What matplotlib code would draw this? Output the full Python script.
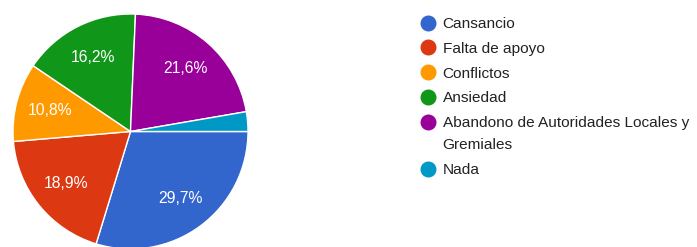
import matplotlib.pyplot as plt
from matplotlib.lines import Line2D

plt.rcParams['font.family'] = ['Liberation Sans', 'DejaVu Sans']

labels = ['Cansancio', 'Falta de apoyo', 'Conflictos', 'Ansiedad',
          'Abandono de Autoridades Locales y\nGremiales', 'Nada']
counts = [11, 7, 4, 6, 8, 1]   # -> 29,7 / 18,9 / 10,8 / 16,2 / 21,6 / 2,7 %
colors = ['#3366cc', '#dc3912', '#ff9900', '#109618', '#990099', '#0099c6']


def fmt(p):
    if p < 5:
        return ''
    return ('%.1f%%' % p).replace('.', ',')


fig = plt.figure(figsize=(6.97, 2.47), dpi=100)
W, H = 697, 247
cx, cy, r = 130.5, 131.5, 117.5
ax = fig.add_axes([(cx - r) / W, (H - cy - r) / H, 2 * r / W, 2 * r / H])

wedges, texts, autotexts = ax.pie(
    counts, colors=colors, startangle=0, counterclock=False,
    autopct=fmt, pctdistance=0.71,
    wedgeprops=dict(edgecolor='white', linewidth=1),
    textprops=dict(color='white', fontsize=11.3))
ax.set_xlim(-1, 1)
ax.set_ylim(-1, 1)
ax.set_aspect('equal')
for w in wedges:
    w.set_clip_on(False)

handles = [Line2D([], [], marker='o', linestyle='none', markersize=10.5,
                  markerfacecolor=c, markeredgecolor=c) for c in colors]
leg = fig.legend(handles, labels, loc='upper left',
                 bbox_to_anchor=(420 / W, 1 - 17 / H),
                 frameon=False, fontsize=11.1, labelspacing=0.7,
                 handlelength=1.0, handletextpad=0.46, borderaxespad=0,
                 borderpad=0)
for t in leg.get_texts():
    t.set_color('#222222')
    t.set_linespacing(1.75)

# put the marker of the two-line entry next to its first line
for col in leg._legend_handle_box.get_children():
    for item in col.get_children():
        txt = item.get_children()[1]
        if '\n' in txt.get_text():
            item.align = 'top'

fig.savefig('out.png', dpi=100)
